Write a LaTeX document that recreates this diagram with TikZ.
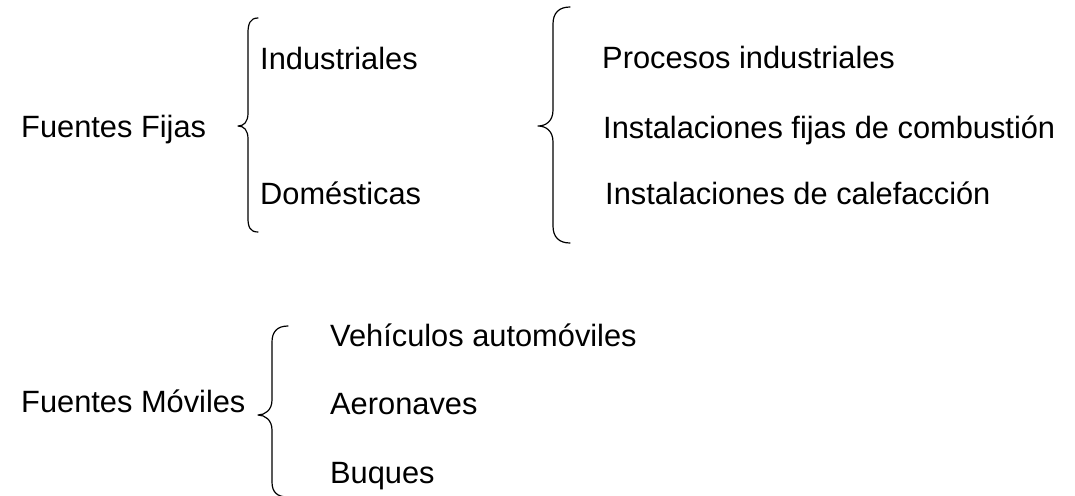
\documentclass[tikz,border=0pt]{standalone}
\usepackage{fontspec}
\setmainfont{Liberation Sans}
\begin{document}
\begin{tikzpicture}[x=1pt,y=-1pt,
  lbl/.style={anchor=base west,inner sep=0pt,font=\fontsize{30.8}{34}\selectfont},
  brace/.style={draw=black,line width=1.2pt,line cap=round,line join=round}]
\useasboundingbox (0,0) rectangle (1075,495);
% texts
\node[lbl] (ff) at (21,137) {Fuentes Fijas};
\node[lbl] (ind) at (260,69) {Industriales};
\node[lbl] (dom) at (260,204) {Domésticas};
\node[lbl] (pi) at (602,68) {Procesos industriales};
\node[lbl] (ifc) at (603,138) {Instalaciones fijas de combustión};
\node[lbl] (icc) at (605,204) {Instalaciones de calefacción};
\node[lbl] (fm) at (21,412) {Fuentes Móviles};
\node[lbl] (va) at (330,346) {Vehículos automóviles};
\node[lbl] (ae) at (330,414) {Aeronaves};
\node[lbl] (bu) at (330,483) {Buques};
% braces
\draw[brace] (258,18) .. controls (250,18) and (248,24) .. (248,33) -- (248,113)
  .. controls (248,122) and (244,126) .. (238,126) .. controls (244,126) and (248,130) .. (248,139)
  -- (248,218) .. controls (248,227) and (250,232) .. (258,232);
\draw[brace] (570,7) .. controls (559,7) and (553,13) .. (553,24) -- (553,110)
  .. controls (553,121) and (546,126) .. (538,126) .. controls (546,126) and (553,131) .. (553,142)
  -- (553,226) .. controls (553,237) and (559,243) .. (570,243);
\draw[brace] (288,326) .. controls (277,326) and (272,332) .. (272,342) -- (272,400)
  .. controls (272,410) and (265,415) .. (258,415) .. controls (265,415) and (272,420) .. (272,430)
  -- (272,482) .. controls (272,492) and (277,497) .. (288,497);
\end{tikzpicture}
\end{document}
